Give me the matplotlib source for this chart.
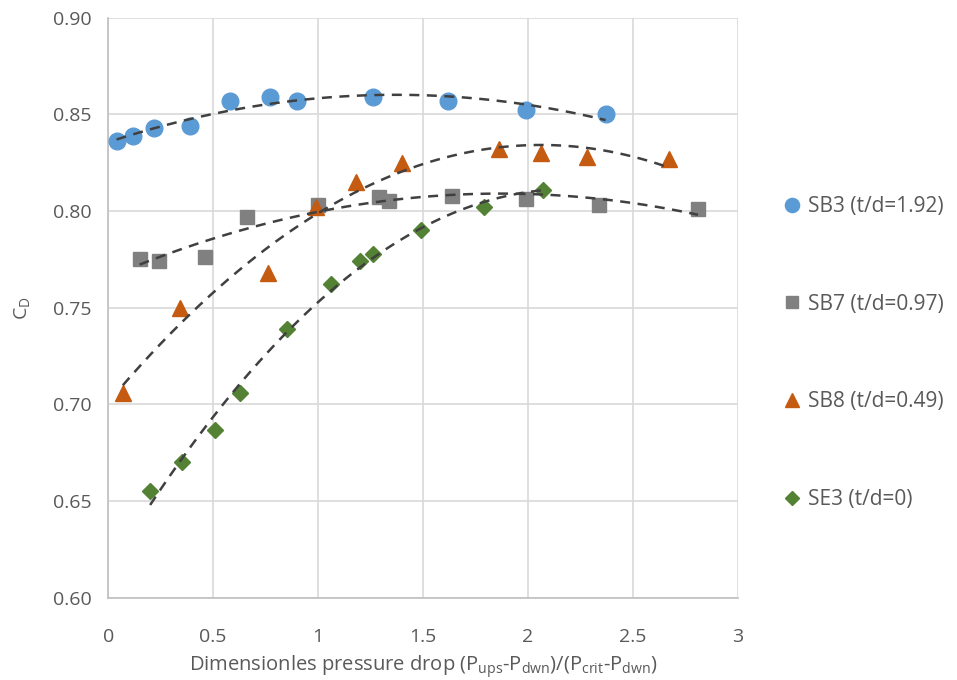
import numpy as np
import matplotlib.pyplot as plt

plt.rcParams['font.family'] = ['Open Sans', 'DejaVu Sans']

# SB3 (t/d=1.92)
sb3_x = [0.04, 0.12, 0.22, 0.39, 0.58, 0.77, 0.90, 1.26, 1.62, 1.99, 2.37]
sb3_y = [0.836, 0.839, 0.843, 0.844, 0.857, 0.859, 0.857, 0.859, 0.857, 0.852, 0.850]
# SB7 (t/d=0.97)
sb7_x = [0.15, 0.24, 0.46, 0.66, 1.00, 1.29, 1.34, 1.64, 1.99, 2.34, 2.81]
sb7_y = [0.775, 0.774, 0.776, 0.797, 0.803, 0.807, 0.805, 0.808, 0.806, 0.803, 0.801]
# SB8 (t/d=0.49)
sb8_x = [0.07, 0.34, 0.76, 0.99, 1.18, 1.40, 1.86, 2.06, 2.28, 2.67]
sb8_y = [0.706, 0.750, 0.768, 0.802, 0.815, 0.825, 0.832, 0.830, 0.828, 0.827]
# SE3 (t/d=0)
se3_x = [0.20, 0.35, 0.51, 0.63, 0.85, 1.06, 1.20, 1.26, 1.49, 1.79, 2.07]
se3_y = [0.655, 0.670, 0.687, 0.706, 0.739, 0.762, 0.774, 0.778, 0.790, 0.802, 0.811]

series = [
    (sb3_x, sb3_y, 'SB3 (t/d=1.92)', 'o', '#5B9BD5', 12),
    (sb7_x, sb7_y, 'SB7 (t/d=0.97)', 's', '#808080', 10.5),
    (sb8_x, sb8_y, 'SB8 (t/d=0.49)', '^', '#C55A11', 12),
    (se3_x, se3_y, 'SE3 (t/d=0)', 'D', '#548235', 8.5),
]

fig = plt.figure(figsize=(9.57, 6.8), dpi=100)
ax = fig.add_axes([0.113, 0.121, 0.658, 0.853])

handles = []
for x, y, label, mk, col, ms in series:
    h, = ax.plot(x, y, linestyle='none', marker=mk, color=col, markersize=ms,
                 label=label, zorder=3)
    handles.append(h)
    # second order polynomial trendline
    c = np.polyfit(x, y, 2)
    xs = np.linspace(min(x), max(x), 100)
    ax.plot(xs, np.polyval(c, xs), linestyle=(0, (4, 3)), color='#404040',
            linewidth=1.8, zorder=4)

ax.set_xlim(0, 3)
ax.set_ylim(0.60, 0.90)
ax.set_xticks(np.arange(0, 3.01, 0.5))
ax.set_xticklabels(['0', '0.5', '1', '1.5', '2', '2.5', '3'])
ax.set_yticks(np.arange(0.60, 0.901, 0.05))
ax.set_yticklabels(['%.2f' % v for v in np.arange(0.60, 0.901, 0.05)])
ax.grid(True, color='#D9D9D9', linewidth=1.2)
ax.set_axisbelow(True)
for s in ['top', 'right']:
    ax.spines[s].set_visible(False)
for s in ['left', 'bottom']:
    ax.spines[s].set_color('#BFBFBF')
    ax.spines[s].set_linewidth(1.2)
ax.tick_params(axis='x', length=0, labelsize=14, labelcolor='#595959', pad=22)
ax.tick_params(axis='y', length=0, labelsize=14, labelcolor='#595959', pad=12)

ax.set_xlabel(r'Dimensionles pressure drop (P$_{\mathregular{ups}}$-P$_{\mathregular{dwn}}$)/(P$_{\mathregular{crit}}$-P$_{\mathregular{dwn}}$)',
              fontsize=14.5, color='#595959', labelpad=5)
ax.set_ylabel(r'C$_{\mathregular{D}}$', fontsize=14, color='#595959', labelpad=14)

leg = fig.legend(handles=handles, loc='center left', bbox_to_anchor=(0.797, 0.481),
                 frameon=False, fontsize=15, labelspacing=3.68, handletextpad=0.25,
                 handlelength=1.0, markerscale=0.85)
for t in leg.get_texts():
    t.set_color('#595959')

fig.savefig('out.png', dpi=100)
